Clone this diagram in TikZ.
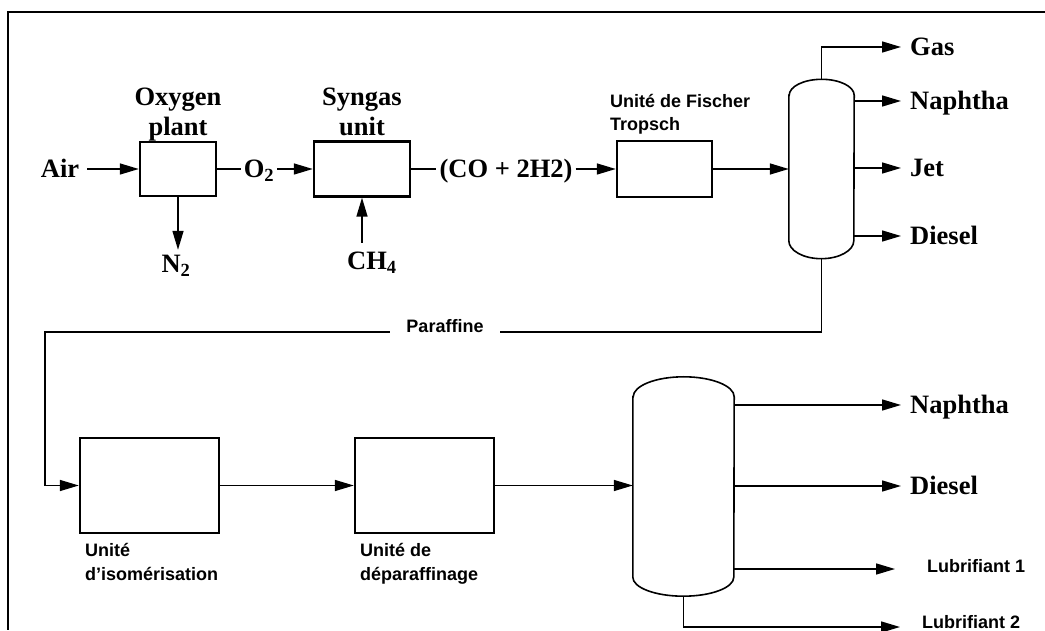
\documentclass[tikz,border=0pt]{standalone}
\usepackage{fontspec}
\setmainfont{Liberation Serif}
\setsansfont{Liberation Sans}
\usetikzlibrary{arrows.meta}
\begin{document}
\begin{tikzpicture}[x=1pt,y=1pt,
  unit/.style={draw,line width=2.4pt,inner sep=0pt},
  lab/.style={font=\bfseries\fontsize{26.5}{30}\selectfont},
  flowtxt/.style={lab,text height=17pt,text depth=0pt,inner ysep=0pt},
  prod/.style={flowtxt,anchor=west,inner xsep=9pt},
  sflab/.style={font=\sffamily\bfseries\fontsize{18}{23}\selectfont},
  flow/.style={line width=1.5pt},
  arr/.style={flow,-{Triangle[length=19pt,width=11pt]}},
  colline/.style={line width=1.6pt}]
\useasboundingbox (0,0) rectangle (1045,630);
\draw[line width=1.6pt] (1045,618) -- (8,618) -- (8,0);

% upper line
\node[flowtxt,inner xsep=8pt] (air) at (60,461) {Air};
\node[unit,minimum width=76pt,minimum height=54pt] (ox) at (178,461) {};
\node[lab,align=center,anchor=north] (oxl) at (178,546) {Oxygen\\plant};
\node[flowtxt,inner xsep=3pt,inner ysep=6pt] (n2) at (176,365.5) {N\textsubscript{2}};
\node[flowtxt,inner xsep=3pt] (o2) at (259,461) {O\textsubscript{2}};
\node[unit,minimum width=96pt,minimum height=55pt] (syn) at (362,461) {};
\node[lab,align=center,anchor=north] (synl) at (362,546) {Syngas\\unit};
\node[flowtxt,inner ysep=10pt] (ch4) at (372,368.5) {CH\textsubscript{4}};
\node[flowtxt,inner xsep=3pt] (co) at (506,461) {(CO + 2H2)};
\node[unit,minimum width=95pt,minimum height=56pt] (ft) at (664.5,461) {};
\node[sflab,align=left,anchor=north west,inner sep=0pt] (ftl) at (610,536) {Unité de Fischer\\Tropsch};
\node[minimum width=65pt,minimum height=179pt,inner sep=0pt] (col1) at (821.5,461) {};
\draw[colline] ([yshift=-16pt]col1.north west) -- ([yshift=18pt]col1.south west)
  arc[start angle=180,end angle=360,x radius=32.5pt,y radius=18pt]
  -- ([yshift=-16pt]col1.north east)
  arc[start angle=0,end angle=180,x radius=32.5pt,y radius=16pt] -- cycle;
\node[prod] (gas) at (901,583) {Gas};
\node[prod] (naph1) at (901,529) {Naphtha};
\node[prod] (jet) at (901,462) {Jet};
\node[prod] (dies1) at (901,394) {Diesel};

\draw[arr] (air.east) -- (ox.west);
\draw[arr] (ox.south) -- (ox.south |- n2.north);
\draw[flow] (ox.east) -- (o2.west);
\draw[arr] (o2.east) -- (syn.west);
\draw[arr] (syn.south |- ch4.north) -- (syn.south);
\draw[flow] (syn.east) -- (co.west);
\draw[arr] (co.east) -- (ft.west);
\draw[arr] (ft.east) -- (col1.west);
\draw[arr] (col1.north) |- (gas.west);
\draw[arr] (col1.east |- naph1.west) -- (naph1.west);
\draw[arr] (col1.east |- jet.west) -- (jet.west);
\draw[arr] (col1.east |- dies1.west) -- (dies1.west);

% lower line
\node[unit,minimum width=139pt,minimum height=95pt] (iso) at (149.5,144.5) {};
\node[sflab,align=left,anchor=north west,inner sep=0pt,font=\sffamily\bfseries\fontsize{18}{24}\selectfont] (isol) at (85,86.5) {Unité\\d'isomérisation};
\node[unit,minimum width=139pt,minimum height=95pt] (dep) at (424.5,144.5) {};
\node[sflab,align=left,anchor=north west,inner sep=0pt,font=\sffamily\bfseries\fontsize{18}{24}\selectfont] (depl) at (360,86.5) {Unité de\\déparaffinage};
\node[minimum width=101pt,minimum height=219pt,inner sep=0pt] (col2) at (683.5,143.5) {};
\draw[colline] ([yshift=-20pt]col2.north west) -- ([yshift=19pt]col2.south west)
  arc[start angle=180,end angle=360,x radius=50.5pt,y radius=19pt]
  -- ([yshift=-20pt]col2.north east)
  arc[start angle=0,end angle=180,x radius=50.5pt,y radius=20pt] -- cycle;
\node[prod] (naph2) at (901,225) {Naphtha};
\node[prod] (dies2) at (901,144) {Diesel};
\coordinate (l1) at (895,61);
\node[sflab,anchor=base west,inner sep=0pt] (lub1) at (927,58) {Lubrifiant 1};
\coordinate (l2) at (900,3);
\node[sflab,anchor=base west,inner sep=0pt] (lub2) at (922,2) {Lubrifiant 2};

\coordinate (turn) at (45,298);
\draw[arr] (col1.south) |- (turn) |- (iso.west);
\node[sflab,fill=white,anchor=base,inner xsep=16pt,inner ysep=2pt] (par) at (445,297) {Paraffine};
\draw[arr] (iso.east) -- (dep.west);
\draw[arr] (dep.east) -- (dep.east -| col2.west);
\draw[arr] (col2.east |- naph2.west) -- (naph2.west);
\draw[arr] (col2.east |- dies2.west) -- (dies2.west);
\draw[arr] (col2.east |- l1) -- (l1);
\draw[arr] (col2.south) |- (l2);
\end{tikzpicture}
\end{document}
